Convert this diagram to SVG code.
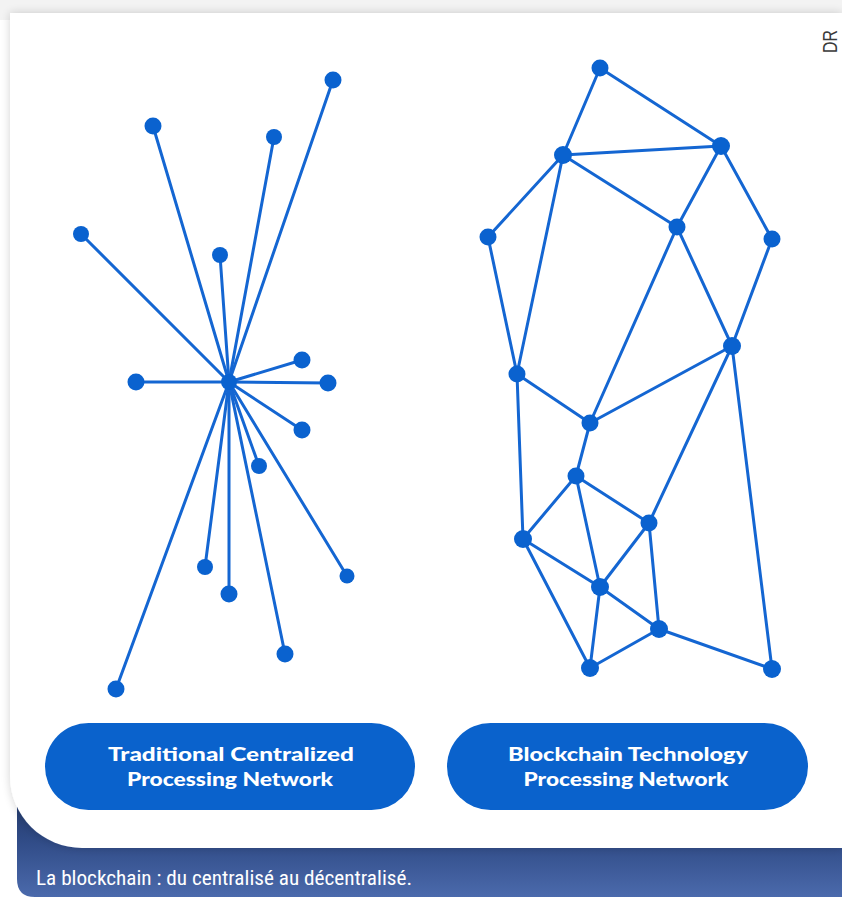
<svg xmlns="http://www.w3.org/2000/svg" width="842" height="897" viewBox="0 0 842 897">
  <defs>
    <linearGradient id="bandGrad" x1="0" y1="0" x2="0" y2="1">
      <stop offset="0" stop-color="#1f3562"/>
      <stop offset="0.45" stop-color="#2f4a85"/>
      <stop offset="1" stop-color="#4b6aac"/>
    </linearGradient>
    <filter id="cardShadow" x="-5%" y="-5%" width="110%" height="110%">
      <feGaussianBlur in="SourceAlpha" stdDeviation="5"/>
      <feOffset dx="0" dy="0" result="blur"/>
      <feComponentTransfer><feFuncA type="linear" slope="0.18"/></feComponentTransfer>
      <feMerge><feMergeNode/><feMergeNode in="SourceGraphic"/></feMerge>
    </filter>
    <style>
      .edge { stroke: #1466d2; stroke-width: 3; stroke-linecap: round; fill: none; }
      .node { fill: #0a62cf; }
      .pill { fill: #0a62cc; }
      .pill-text { fill: #ffffff; font-family: Lato, "Open Sans", "Liberation Sans", sans-serif; font-weight: 900; font-size: 19px; text-anchor: middle; }
      .caption { fill: #ffffff; font-family: "Liberation Sans Narrow", "Roboto Condensed", Roboto, "Liberation Sans", sans-serif; font-size: 21px; }
      .credit { fill: #3a3a3a; font-family: "Liberation Sans Narrow", "Liberation Sans", Arial, sans-serif; font-size: 20px; }
    </style>
  </defs>

  <!-- page background -->
  <rect x="0" y="0" width="842" height="897" fill="#ffffff"/>
  <rect x="0" y="0" width="842" height="20" fill="#f3f3f3"/>

  <!-- caption band behind the card -->
  <path d="M17,790 H842 V897 H35 Q17,897 17,879 Z" fill="url(#bandGrad)"/>

  <!-- white card with rounded lower-left corner -->
  <path d="M10,13 H842 V848 H82 A72,72 0 0 1 10,776 Z" fill="#ffffff" filter="url(#cardShadow)"/>

  <!-- credit -->
  <text class="credit" transform="translate(837,53) rotate(-90)" textLength="23" lengthAdjust="spacingAndGlyphs">DR</text>

  <!-- connectors -->
  <g id="connectors">
    <!-- centralized star -->
    <g id="star-edges">
      <line class="edge" x1="229" y1="382" x2="153" y2="126"/>
      <line class="edge" x1="229" y1="382" x2="274" y2="137"/>
      <line class="edge" x1="229" y1="382" x2="333" y2="80"/>
      <line class="edge" x1="229" y1="382" x2="81" y2="234"/>
      <line class="edge" x1="229" y1="382" x2="220" y2="255"/>
      <line class="edge" x1="229" y1="382" x2="136" y2="382"/>
      <line class="edge" x1="229" y1="382" x2="302" y2="360"/>
      <line class="edge" x1="229" y1="382" x2="328" y2="383"/>
      <line class="edge" x1="229" y1="382" x2="302" y2="430"/>
      <line class="edge" x1="229" y1="382" x2="259" y2="466"/>
      <line class="edge" x1="229" y1="382" x2="347" y2="576"/>
      <line class="edge" x1="229" y1="382" x2="205" y2="567"/>
      <line class="edge" x1="229" y1="382" x2="229" y2="594"/>
      <line class="edge" x1="229" y1="382" x2="285" y2="654"/>
      <line class="edge" x1="229" y1="382" x2="116" y2="689"/>
    </g>
    <!-- distributed mesh -->
    <g id="mesh-edges">
      <line class="edge" x1="600" y1="68" x2="563" y2="155"/>
      <line class="edge" x1="600" y1="68" x2="721" y2="146"/>
      <line class="edge" x1="563" y1="155" x2="721" y2="146"/>
      <line class="edge" x1="563" y1="155" x2="488" y2="237"/>
      <line class="edge" x1="563" y1="155" x2="517" y2="374"/>
      <line class="edge" x1="563" y1="155" x2="677" y2="227"/>
      <line class="edge" x1="721" y1="146" x2="677" y2="227"/>
      <line class="edge" x1="721" y1="146" x2="772" y2="239"/>
      <line class="edge" x1="488" y1="237" x2="517" y2="374"/>
      <line class="edge" x1="677" y1="227" x2="590" y2="423"/>
      <line class="edge" x1="677" y1="227" x2="732" y2="346"/>
      <line class="edge" x1="772" y1="239" x2="732" y2="346"/>
      <line class="edge" x1="732" y1="346" x2="590" y2="423"/>
      <line class="edge" x1="732" y1="346" x2="649" y2="523"/>
      <line class="edge" x1="732" y1="346" x2="772" y2="669"/>
      <line class="edge" x1="517" y1="374" x2="590" y2="423"/>
      <line class="edge" x1="517" y1="374" x2="523" y2="539"/>
      <line class="edge" x1="590" y1="423" x2="576" y2="476"/>
      <line class="edge" x1="576" y1="476" x2="523" y2="539"/>
      <line class="edge" x1="576" y1="476" x2="600" y2="587"/>
      <line class="edge" x1="576" y1="476" x2="649" y2="523"/>
      <line class="edge" x1="649" y1="523" x2="659" y2="629"/>
      <line class="edge" x1="649" y1="523" x2="600" y2="587"/>
      <line class="edge" x1="523" y1="539" x2="600" y2="587"/>
      <line class="edge" x1="523" y1="539" x2="590" y2="668"/>
      <line class="edge" x1="600" y1="587" x2="590" y2="668"/>
      <line class="edge" x1="600" y1="587" x2="659" y2="629"/>
      <line class="edge" x1="659" y1="629" x2="590" y2="668"/>
      <line class="edge" x1="659" y1="629" x2="772" y2="669"/>
    </g>
  </g>

  <!-- centralized network nodes -->
  <g id="hub"><circle class="node" cx="229" cy="382" r="8"/></g>
  <g id="c1"><circle class="node" cx="153" cy="126" r="8.5"/></g>
  <g id="c2"><circle class="node" cx="274" cy="137" r="8"/></g>
  <g id="c3"><circle class="node" cx="333" cy="80" r="8.5"/></g>
  <g id="c4"><circle class="node" cx="81" cy="234" r="8"/></g>
  <g id="c5"><circle class="node" cx="220" cy="255" r="8"/></g>
  <g id="c6"><circle class="node" cx="136" cy="382" r="8.5"/></g>
  <g id="c7"><circle class="node" cx="302" cy="360" r="8.5"/></g>
  <g id="c8"><circle class="node" cx="328" cy="383" r="8.5"/></g>
  <g id="c9"><circle class="node" cx="302" cy="430" r="8.5"/></g>
  <g id="c10"><circle class="node" cx="259" cy="466" r="8"/></g>
  <g id="c11"><circle class="node" cx="347" cy="576" r="7.5"/></g>
  <g id="c12"><circle class="node" cx="205" cy="567" r="8"/></g>
  <g id="c13"><circle class="node" cx="229" cy="594" r="8.5"/></g>
  <g id="c14"><circle class="node" cx="285" cy="654" r="8.5"/></g>
  <g id="c15"><circle class="node" cx="116" cy="689" r="8.5"/></g>

  <!-- distributed network nodes -->
  <g id="d1"><circle class="node" cx="600" cy="68" r="8.5"/></g>
  <g id="d2"><circle class="node" cx="563" cy="155" r="9"/></g>
  <g id="d3"><circle class="node" cx="721" cy="146" r="9"/></g>
  <g id="d4"><circle class="node" cx="488" cy="237" r="8.5"/></g>
  <g id="d5"><circle class="node" cx="677" cy="227" r="8.5"/></g>
  <g id="d6"><circle class="node" cx="772" cy="239" r="8.5"/></g>
  <g id="d7"><circle class="node" cx="732" cy="346" r="9"/></g>
  <g id="d8"><circle class="node" cx="517" cy="374" r="8.5"/></g>
  <g id="d9"><circle class="node" cx="590" cy="423" r="8.5"/></g>
  <g id="d10"><circle class="node" cx="576" cy="476" r="8.5"/></g>
  <g id="d11"><circle class="node" cx="649" cy="523" r="8.5"/></g>
  <g id="d12"><circle class="node" cx="523" cy="539" r="9"/></g>
  <g id="d13"><circle class="node" cx="600" cy="587" r="9"/></g>
  <g id="d14"><circle class="node" cx="659" cy="629" r="9"/></g>
  <g id="d15"><circle class="node" cx="590" cy="668" r="9"/></g>
  <g id="d16"><circle class="node" cx="772" cy="669" r="9"/></g>

  <!-- labels -->
  <g id="label-centralized">
    <rect class="pill" x="45" y="723" width="370" height="87" rx="43.5"/>
    <text class="pill-text" x="231" y="761" textLength="246" lengthAdjust="spacingAndGlyphs">Traditional Centralized</text>
    <text class="pill-text" x="230" y="786" textLength="206" lengthAdjust="spacingAndGlyphs">Processing Network</text>
  </g>
  <g id="label-blockchain">
    <rect class="pill" x="447" y="723" width="361" height="87" rx="43.5"/>
    <text class="pill-text" x="628" y="761" textLength="240" lengthAdjust="spacingAndGlyphs">Blockchain Technology</text>
    <text class="pill-text" x="626" y="786" textLength="205" lengthAdjust="spacingAndGlyphs">Processing Network</text>
  </g>

  <!-- caption -->
  <text class="caption" x="36" y="885" textLength="376" lengthAdjust="spacingAndGlyphs">La blockchain : du centralisé au décentralisé.</text>
</svg>
